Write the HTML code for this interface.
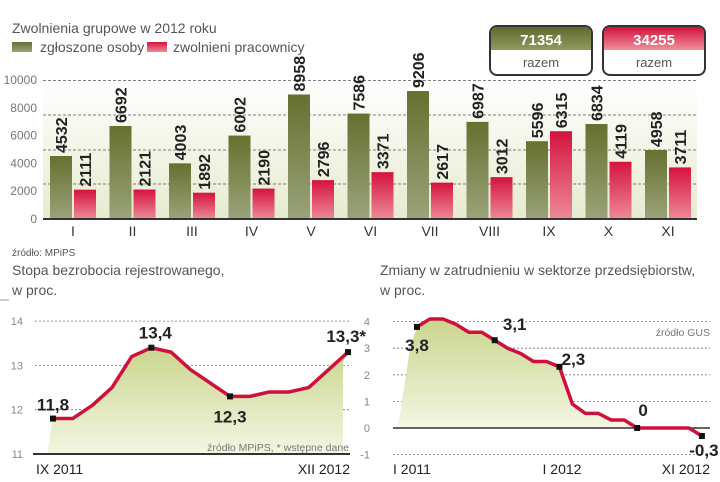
<!DOCTYPE html>
<html><head><meta charset="utf-8"><style>
body{margin:0;background:#fff;}
svg{display:block;font-family:"Liberation Sans",sans-serif;}
.val{font-family:"Liberation Sans Narrow","Liberation Sans",sans-serif;font-weight:bold;fill:#222;}
</style></head><body>
<svg id="s" width="720" height="482" viewBox="0 0 720 482">
<defs>
<linearGradient id="gG" x1="0" y1="0" x2="0" y2="1"><stop offset="0" stop-color="#66702f"/><stop offset="1" stop-color="#9aa37a"/></linearGradient>
<linearGradient id="gR" x1="0" y1="0" x2="0" y2="1"><stop offset="0" stop-color="#d5133f"/><stop offset="1" stop-color="#ec8a97"/></linearGradient>
<linearGradient id="gBg" x1="0" y1="0" x2="0" y2="1"><stop offset="0" stop-color="#ffffff"/><stop offset="1" stop-color="#e6ebcf"/></linearGradient>
<linearGradient id="gA" x1="0" y1="0" x2="0" y2="1"><stop offset="0" stop-color="#c9d58e"/><stop offset="1" stop-color="#f4f6e2"/></linearGradient>
<linearGradient id="gBoxG" x1="0" y1="0" x2="0" y2="1"><stop offset="0" stop-color="#5f6a2c"/><stop offset="1" stop-color="#8f9a62"/></linearGradient>
<linearGradient id="gBoxR" x1="0" y1="0" x2="0" y2="1"><stop offset="0" stop-color="#d3103c"/><stop offset="1" stop-color="#ee8f9c"/></linearGradient>
</defs>
<text x="12" y="33" font-size="14" fill="#555">Zwolnienia grupowe w 2012 roku</text>
<rect x="12" y="42" width="20" height="10" fill="url(#gG)"/>
<text x="40" y="52" font-size="14" fill="#555">zgłoszone osoby</text>
<rect x="147" y="42" width="20" height="10" fill="url(#gR)"/>
<text x="173" y="52" font-size="14" fill="#555">zwolnieni pracownicy</text>
<g>
<rect x="490" y="26" width="102" height="49" rx="7" fill="#fff" stroke="#333" stroke-width="2"/>
<path d="M491,50 V33 a6,6 0 0 1 6,-6 H585 a6,6 0 0 1 6,6 V50 Z" fill="url(#gBoxG)"/>
<text x="541" y="45" font-size="15" text-anchor="middle" class="val" style="fill:#fff">71354</text>
<text x="541" y="67" font-size="13" fill="#555" text-anchor="middle">razem</text></g>
<g>
<rect x="603" y="26" width="102" height="49" rx="7" fill="#fff" stroke="#333" stroke-width="2"/>
<path d="M604,50 V33 a6,6 0 0 1 6,-6 H698 a6,6 0 0 1 6,6 V50 Z" fill="url(#gBoxR)"/>
<text x="654" y="45" font-size="15" text-anchor="middle" class="val" style="fill:#fff">34255</text>
<text x="654" y="67" font-size="13" fill="#555" text-anchor="middle">razem</text></g>
<rect x="43" y="80" width="654" height="139" fill="url(#gBg)"/>
<g id="bars"></g>
<text x="12" y="256" font-size="10" fill="#555">źródło: MPiPS</text>
<text x="12" y="275" font-size="14" fill="#555">Stopa bezrobocia rejestrowanego,</text>
<text x="12" y="295" font-size="14" fill="#555">w proc.</text>
<line x1="0" y1="300" x2="9" y2="300" stroke="#999"/>
<text x="380" y="275" font-size="14" fill="#555">Zmiany w zatrudnieniu w sektorze przedsiębiorstw,</text>
<text x="380" y="295" font-size="14" fill="#555">w proc.</text>
<g id="l1"></g><g id="l2"></g>
</svg>
<script>
const months=["I","II","III","IV","V","VI","VII","VIII","IX","X","XI"];
const reported=[4532,6692,4003,6002,8958,7586,9206,6987,5596,6834,4958];
const dismissed=[2111,2121,1892,2190,2796,3371,2617,3012,6315,4119,3711];
const barTicks=[0,2000,4000,6000,8000,10000];
const ue=[11.8,11.8,12.1,12.5,13.2,13.4,13.3,12.9,12.6,12.3,12.3,12.4,12.4,12.5,12.9,13.3];
const ueTicks=[11,12,13,14];
const ueMarks=[0,5,9,15];
const ueLabels=["11,8","13,4","12,3","13,3*"];
const emp=[3.8,4.1,4.1,3.9,3.6,3.6,3.3,3.0,2.8,2.5,2.5,2.3,0.9,0.55,0.55,0.3,0.3,0.0,0,0,0,0,-0.3];
const empTicks=[-1,0,1,2,3,4];
const empMarks=[0,6,11,17,22];
const empLabels=["3,8","3,1","2,3","0","-0,3"];
const NS="http://www.w3.org/2000/svg";
function mk(p,t,a,txt){const e=document.createElementNS(NS,t);for(const k in a)e.setAttribute(k,a[k]);if(txt!==undefined)e.textContent=txt;p.appendChild(e);return e;}
const B=document.getElementById('bars');
const by=v=>219-v*139/10000, bx=i=>50+i*59.5;
[80.5,115,150,184].forEach(y=>{const g=mk(B,'line',{x1:43,x2:697,y1:y,y2:y,stroke:'#555','stroke-dasharray':'3,2','stroke-width':0.8});

});
barTicks.forEach(v=>{const t=mk(B,'text',{x:37,y:by(v)+4,'font-size':12,fill:'#777','text-anchor':'end'},v);

});
months.forEach((m,i)=>{
 const x=bx(i);
 const r1=mk(B,'rect',{x:x,y:by(reported[i]),width:22,height:219-by(reported[i]),fill:'url(#gG)'});
 
 
 const r2=mk(B,'rect',{x:x+24,y:by(dismissed[i]),width:22,height:219-by(dismissed[i]),fill:'url(#gR)'});
 
 
 [[x+11,reported[i]],[x+35,dismissed[i]]].forEach(([cx,v])=>{
  const t=mk(B,'text',{x:0,y:0,'font-size':16,class:'val',transform:`translate(${cx+6},${by(v)-3}) rotate(-90)`},v);
  
  });
 const ml=mk(B,'text',{x:x+23,y:236,'font-size':14,fill:'#333','text-anchor':'middle'},m);
 
 
});
const ax=mk(B,'line',{x1:43,x2:697,y1:219,y2:219,stroke:'#333','stroke-width':2});


function lineChart(G,ticks,ty,x0,step,xl,xr,tx,name){
 const px=i=>x0+i*step;
 ticks.forEach(v=>{const l=mk(G,'line',{x1:xl,x2:xr,y1:ty(v),y2:ty(v),stroke:'#777','stroke-dasharray':'2,2','stroke-width':0.8});
 
 
 const t=mk(G,'text',{x:tx,y:ty(v)+4,'font-size':11,fill:'#888','text-anchor':'end'},v);
 
 });
 return px;
}
const L1=document.getElementById('l1');
const uy=v=>454-(v-11)*44.3;
const up=lineChart(L1,ueTicks,uy,53,19.67,35,350,23,'unemployment');
let pts=ue.map((v,i)=>up(i)+','+uy(v)).join(' ');
const a1=mk(L1,'polygon',{points:`47,454 ${pts} 343,${uy(ue[ue.length-1])+10} 343,454`,fill:'url(#gA)'});


const p1=mk(L1,'polyline',{points:pts,fill:'none',stroke:'#d0103c','stroke-width':3.5,'stroke-linejoin':'round'});


const uOff=[[0,-8,'middle'],[4,-9,'middle'],[0,26,'middle'],[18,-10,'end']];
ueMarks.forEach((i,k)=>{const m=mk(L1,'rect',{x:up(i)-3,y:uy(ue[i])-3,width:6,height:6,fill:'#111'});
 
 
 const t=mk(L1,'text',{x:up(i)+uOff[k][0],y:uy(ue[i])+uOff[k][1],'font-size':17,class:'val','text-anchor':uOff[k][2]},ueLabels[k]);
 
 });
mk(L1,'line',{x1:33,x2:350,y1:454,y2:454,stroke:'#333','stroke-width':2});
mk(L1,'text',{x:349,y:451,'font-size':10.5,fill:'#777','text-anchor':'end'},'źródło MPiPS, * wstępne dane');
mk(L1,'text',{x:36,y:474,'font-size':14,fill:'#222'},'IX 2011');
mk(L1,'text',{x:350,y:474,'font-size':14,fill:'#222','text-anchor':'end'},'XII 2012');
const L2=document.getElementById('l2');
const ey=v=>428-v*26.6;
const ep=lineChart(L2,empTicks,ey,417,12.95,393,710,370,'employment');
const zi=emp.findIndex((v,i)=>i>0&&v<=0);
const ptsE=emp.map((v,i)=>ep(i)+','+ey(v)).join(' ');
const areaPts=emp.slice(0,zi+1).map((v,i)=>ep(i)+','+ey(v)).join(' ');
const a2=mk(L2,'polygon',{points:`398,428 410,${ey(3)} ${areaPts}`,fill:'url(#gA)'});


mk(L2,'line',{x1:393,x2:710,y1:428,y2:428,stroke:'#333','stroke-width':1.5});
const p2=mk(L2,'polyline',{points:ptsE,fill:'none',stroke:'#d0103c','stroke-width':3.5,'stroke-linejoin':'round'});


const eOff=[[0,24],[20,-10],[14,-2],[6,-12],[2,20]];
empMarks.forEach((i,k)=>{const m=mk(L2,'rect',{x:ep(i)-3,y:ey(emp[i])-3,width:6,height:6,fill:'#111'});
 
 
 const t=mk(L2,'text',{x:ep(i)+eOff[k][0],y:ey(emp[i])+eOff[k][1],'font-size':17,class:'val','text-anchor':'middle'},empLabels[k]);
 
 });
mk(L2,'text',{x:710,y:336,'font-size':10.5,fill:'#777','text-anchor':'end'},'źródło GUS');
mk(L2,'text',{x:393,y:474,'font-size':14,fill:'#222'},'I 2011');
mk(L2,'text',{x:562,y:474,'font-size':14,fill:'#222','text-anchor':'middle'},'I 2012');
mk(L2,'text',{x:710,y:474,'font-size':14,fill:'#222','text-anchor':'end'},'XI 2012');
</script>
</body></html>
